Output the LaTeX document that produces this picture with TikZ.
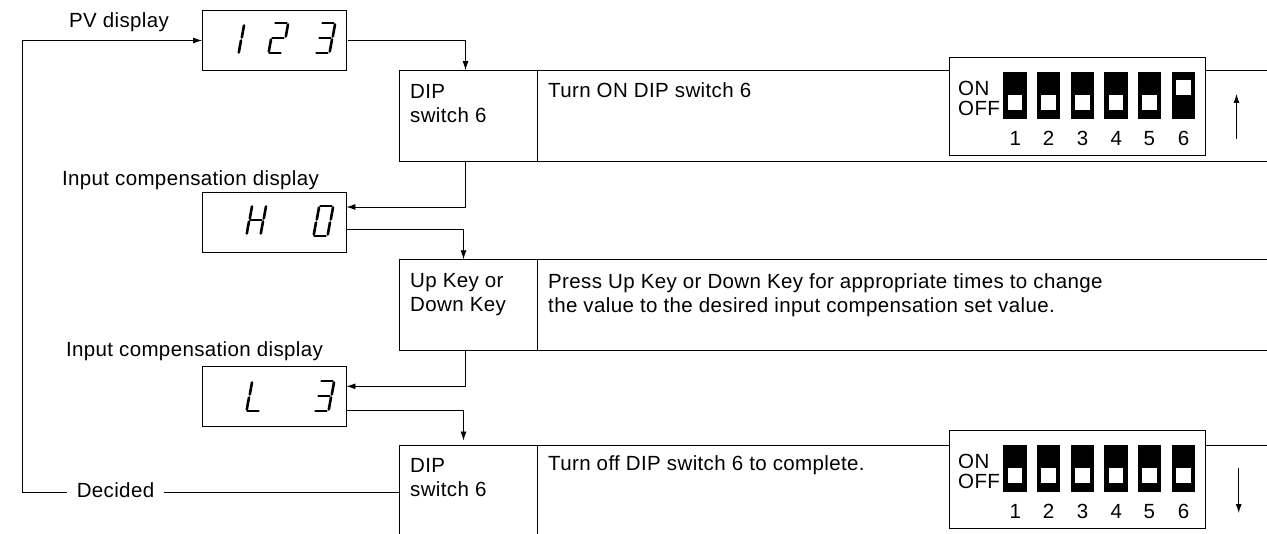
\documentclass[tikz,border=0pt]{standalone}
\usepackage{fontspec}
\setmainfont[LetterSpace=1.8]{Liberation Sans}
\usetikzlibrary{arrows.meta}
% segments of one display digit
\newcommand{\sega}{\draw[seg] (7.5,0) -- (18.5,0);}
\newcommand{\segb}{\draw[seg] (20,1.5) -- (17.8,13.5);}
\newcommand{\segc}{\draw[seg] (17,16.5) -- (14.8,28.5);}
\newcommand{\segd}{\draw[seg] (1.5,30) -- (12.5,30);}
\newcommand{\sege}{\draw[seg] (3,16.5) -- (0.8,28.5);}
\newcommand{\segf}{\draw[seg] (6,1.5) -- (3.8,13.5);}
\newcommand{\segg}{\draw[seg] (4.5,15) -- (15.5,15);}
\newcommand{\segdigit}[3]{\begin{scope}[shift={(#1,#2)}] #3 \end{scope}}
\begin{document}
\begin{tikzpicture}[x=1pt,y=-1pt,font=\fontsize{20.5}{24}\selectfont]
        \tikzstyle{seg}=[line width=2.6pt,line cap=round]
        \tikzstyle{display}=[draw,line width=0.9pt,minimum width=143.5pt,minimum height=60.5pt,inner sep=0pt]
        \tikzstyle{keycell}=[draw,line width=0.9pt,minimum width=138pt,inner sep=0pt]
        \tikzstyle{textcell}=[draw,line width=0.9pt,minimum width=740pt,inner sep=0pt]
        \tikzstyle{label}=[inner sep=0pt]
        \tikzstyle{baselabel}=[inner sep=0pt,anchor=base]
        \tikzstyle{panellabel}=[inner sep=0pt,anchor=base west]
        \tikzstyle{lefttext}=[inner sep=0pt,anchor=west,align=left]
        \tikzstyle{edge}=[draw,line width=0.9pt]
        \tikzstyle{conn}=[draw,line width=0.9pt,-{Latex[length=9pt,width=6pt]}]
        \tikzstyle{panel}=[draw,fill=white,line width=0.9pt,minimum width=256.5pt,minimum height=98.5pt,inner sep=0pt]
        \tikzstyle{body}=[fill=black,minimum width=23.5pt,minimum height=47pt,inner sep=0pt]
        \tikzstyle{knob}=[fill=white,minimum width=14.5pt,minimum height=14.5pt,inner sep=0pt]
        \clip (0,0) rectangle (1267,534);
        \fill[white] (0,0) rectangle (1267,534);

        % displays
        \node [display] (pv) at (274.25,40.5) {};
        \node [display] (hzero) at (274.25,222.5) {};
        \node [display] (lthree) at (274.25,396.5) {};
        \node [label] (pvlab) at (119,22) {PV display};
        \node [label] (hlab) at (190.5,180) {Input compensation display};
        \node [label] (llab) at (194.5,351) {Input compensation display};
        \segdigit{224}{24}{\segb\segc}
        \segdigit{268}{23}{\sega\segb\segg\sege\segd}
        \segdigit{315}{23}{\sega\segb\segg\segc\segd}
        \segdigit{246}{205}{\segb\segc\segf\sege\segg}
        \segdigit{313}{206}{\sega\segb\segc\segd\sege\segf}
        \segdigit{246}{381}{\segf\sege\segd}
        \segdigit{314}{381}{\sega\segb\segg\segc\segd}

        % steps
        \node [keycell,minimum height=90.5pt] (dipa) at (468,115.75) {};
        \node [textcell,minimum height=90.5pt,anchor=west] (dipatext) at (dipa.east) {};
        \node [keycell,minimum height=90.5pt] (keys) at (468,305) {};
        \node [textcell,minimum height=90.5pt,anchor=west] (keystext) at (keys.east) {};
        \node [keycell,minimum height=100pt] (dipb) at (468,495) {};
        \node [textcell,minimum height=100pt,anchor=west] (dipbtext) at (dipb.east) {};
        \node [lefttext] (dipalab) at (410,103.5) {DIP\\switch 6};
        \node [lefttext] (keyslab) at (410,295) {Up Key or\\Down Key};
        \node [lefttext] (dipblab) at (410,477.5) {DIP\\switch 6};
        \node [lefttext] (dipamsg) at (548,90) {Turn ON DIP switch 6};
        \node [lefttext] (keysmsg) at (548,295) {Press Up Key or Down Key for appropriate times to change\\the value to the desired input compensation set value.};
        \node [lefttext] (dipbmsg) at (548,465) {Turn off DIP switch 6 to complete.};

        % connectors
        \node [inner sep=10pt] (decided) at (115.5,490) {Decided};
        \coordinate (corner) at (22.5,492.5);
        \path[conn,shorten <=2pt] (pv.east) -| ([xshift=-2.5pt]dipa.north);
        \path[conn] ([xshift=-2.5pt]dipa.south) |- ([yshift=15.5pt]hzero.east);
        \path[conn] ([yshift=-6.8pt]hzero.east) -| ([xshift=-4.5pt]keys.north);
        \path[conn] ([xshift=-2.5pt]keys.south) |- ([yshift=10.2pt]lthree.east);
        \path[conn,shorten >=4pt] ([yshift=-13.8pt]lthree.east) -| ([xshift=-4.5pt]dipb.north);
        \path[edge] (dipb.west |- corner) -- (decided.east |- corner);
        \path[conn] (decided.west |- corner) -- (corner) |- (pv.west);

        % switch panels
        \begin{scope}
          \node [panel] (swa) at (1077.5,106.5) {};
          \node [panellabel] (swaon) at (958,96) {ON};
          \node [panellabel] (swaoff) at (958,116) {OFF};
          \foreach \n/\x/\k in {1/1015.2/102.6,2/1048.5/102.6,3/1082.5/102.6,4/1116.2/102.6,5/1149.3/102.6,6/1183.5/87.5} {
            \node [body] (swabody\n) at (\x,95.5) {};
            \node [knob] (swaknob\n) at (\x,\k) {};
            \node [baselabel] (swanum\n) at (\x,145.5) {\n};
          }
        \end{scope}
        \begin{scope}[shift={(0,373)}]
          \node [panel] (swb) at (1077.5,106.5) {};
          \node [panellabel] (swbon) at (958,96) {ON};
          \node [panellabel] (swboff) at (958,116) {OFF};
          \foreach \n/\x in {1/1015.2,2/1048.5,3/1082.5,4/1116.2,5/1149.3,6/1183.5} {
            \node [body] (swbbody\n) at (\x,95.5) {};
            \node [knob] (swbknob\n) at (\x,102.6) {};
            \node [baselabel] (swbnum\n) at (\x,145.5) {\n};
          }
        \end{scope}
        \coordinate (upfrom) at (1236.5,139);
        \coordinate (upto) at (1236.5,94);
        \coordinate (downfrom) at (1238.7,468);
        \coordinate (downto) at (1238.7,513);
        \path[conn] (upfrom) -- (upto);
        \path[conn] (downfrom) -- (downto);
\end{tikzpicture}
\end{document}
